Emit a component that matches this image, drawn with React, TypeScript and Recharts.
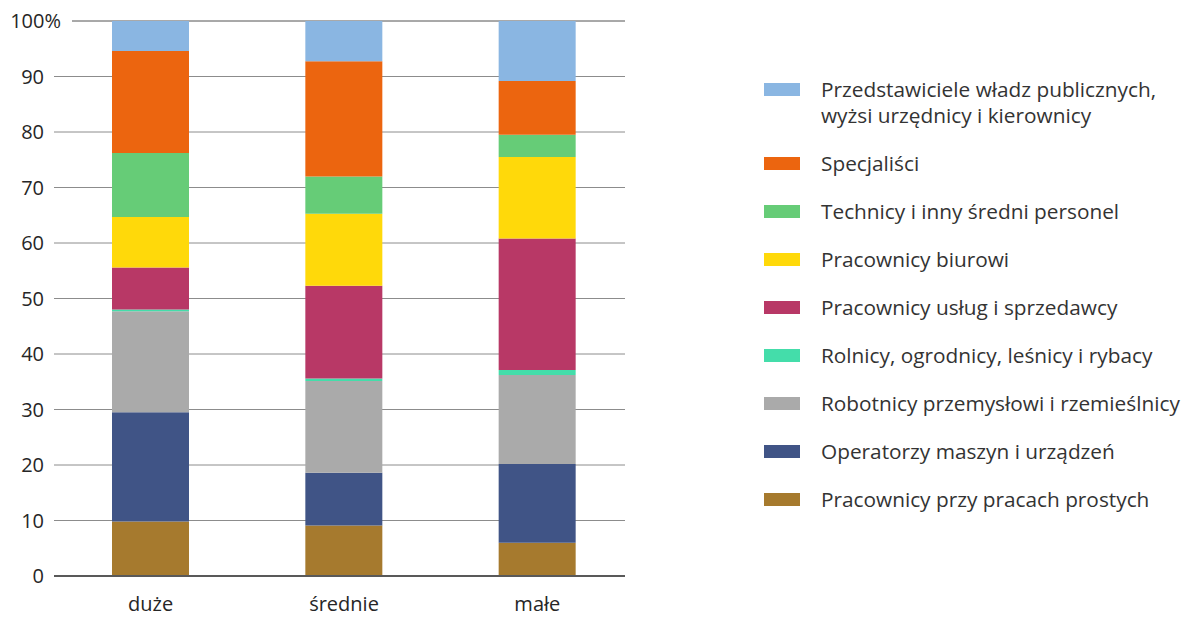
import { Bar, BarChart, CartesianGrid, XAxis, YAxis } from "recharts";

const categories = ["duże", "średnie", "małe"];

// udział grup zawodowych (%), od dołu słupka
const prostych = [9.8, 9.1, 6.0];
const operatorzy = [19.7, 9.5, 14.2];
const robotnicy = [18.2, 16.55, 16.0];
const rolnicy = [0.3, 0.45, 0.9];
const uslugi = [7.6, 16.7, 23.7];
const biurowi = [9.1, 12.95, 14.7];
const technicy = [11.5, 6.75, 4.0];
const specjalisci = [18.4, 20.75, 9.7];
const kierownicy = [5.4, 7.25, 10.8];

const yTicks = [0, 10, 20, 30, 40, 50, 60, 70, 80, 90, 100];

const series = [
  { key: "prostych", name: "Pracownicy przy pracach prostych", values: prostych, color: "#A67A2E" },
  { key: "operatorzy", name: "Operatorzy maszyn i urządzeń", values: operatorzy, color: "#405486" },
  { key: "robotnicy", name: "Robotnicy przemysłowi i rzemieślnicy", values: robotnicy, color: "#AAAAAA" },
  { key: "rolnicy", name: "Rolnicy, ogrodnicy, leśnicy i rybacy", values: rolnicy, color: "#44DDAA" },
  { key: "uslugi", name: "Pracownicy usług i sprzedawcy", values: uslugi, color: "#B83866" },
  { key: "biurowi", name: "Pracownicy biurowi", values: biurowi, color: "#FFD90A" },
  { key: "technicy", name: "Technicy i inny średni personel", values: technicy, color: "#66CC77" },
  { key: "specjalisci", name: "Specjaliści", values: specjalisci, color: "#EC650F" },
  {
    key: "kierownicy",
    name: "Przedstawiciele władz publicznych, wyżsi urzędnicy i kierownicy",
    values: kierownicy,
    color: "#8AB6E2",
  },
];

const data = categories.map((c, i) => {
  const row: Record<string, string | number> = { name: c };
  series.forEach((s) => {
    row[s.key] = s.values[i];
  });
  return row;
});

const FONT = "'Open Sans', sans-serif";
const TEXT = "#262626";

function YTick({ x, y, payload }: any) {
  const top = payload.value === 100;
  return (
    <g>
      {top && <rect x={x + 10} y={y - 3} width={18} height={6} fill="#fff" />}
      <text x={top ? x + 17 : x} y={y} dy="0.36em" textAnchor="end" fontSize={20} fill={TEXT}>
        {top ? "100%" : payload.value}
      </text>
    </g>
  );
}

function LegendBox() {
  return (
    <div
      style={{
        position: "absolute",
        left: 764,
        top: 76,
        fontFamily: FONT,
        fontSize: 20.8,
        lineHeight: "26px",
        color: "#333",
      }}
    >
      {[...series].reverse().map((s) => (
        <div key={s.key} style={{ display: "flex", alignItems: "flex-start", marginBottom: 22 }}>
          <div
            style={{ width: 36, height: 13, marginTop: 6.5, background: s.color, flex: "none" }}
          />
          <div style={{ marginLeft: 21, width: 372 }}>{s.name}</div>
        </div>
      ))}
    </div>
  );
}

export default function App() {
  return (
    <div style={{ position: "absolute", left: 0, top: 0, width: 1186, height: 618, background: "#fff" }}>
      <BarChart
        width={1186}
        height={618}
        data={data}
        margin={{ top: 21, right: 561, bottom: 0, left: 0 }}
        style={{ fontFamily: FONT }}
      >
        <CartesianGrid vertical={false} stroke="#8c8c8c" strokeWidth={1} />
        <XAxis
          dataKey="name"
          height={42}
          padding={{ left: 0, right: -9 }}
          tickLine={false}
          tickSize={0}
          tickMargin={21}
          axisLine={{ stroke: "#595959", strokeWidth: 2 }}
          tick={{ fontSize: 20, fill: TEXT }}
        />
        <YAxis
          width={54}
          domain={[0, 100]}
          ticks={yTicks}
          axisLine={false}
          tickLine={false}
          tickSize={0}
          tickMargin={10}
          tick={<YTick />}
          interval={0}
        />
        {series.map((s) => (
          <Bar
            key={s.key}
            dataKey={s.key}
            name={s.name}
            stackId="a"
            fill={s.color}
            barSize={77}
            isAnimationActive={false}
          />
        ))}
      </BarChart>
      <LegendBox />
    </div>
  );
}
